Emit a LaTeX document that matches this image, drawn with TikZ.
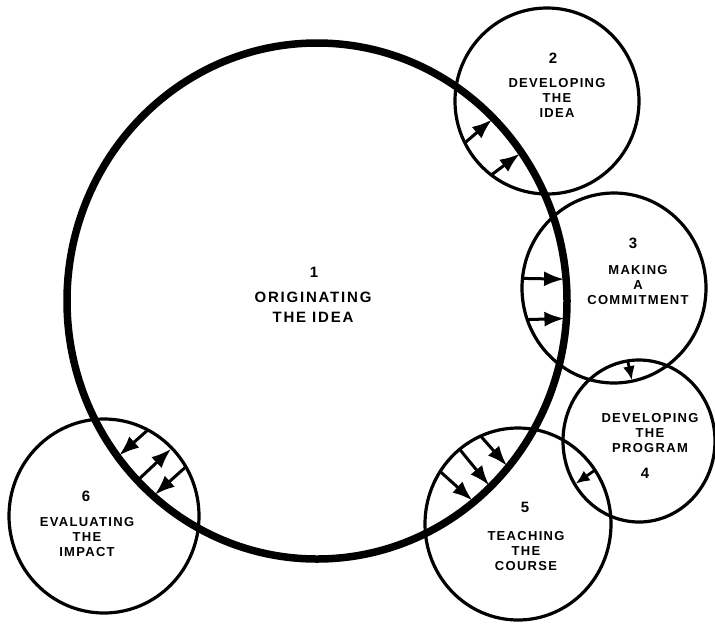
\documentclass[tikz,border=0pt]{standalone}
\usepackage{fontspec}
\setmainfont{Liberation Sans}
\newfontfamily\lblfamily{Liberation Sans}[LetterSpace=10.0]
\newfontfamily\biglblfamily{Liberation Sans}[LetterSpace=12.0]
\usetikzlibrary{shapes.geometric,arrows.meta}
\tikzset{
  stage/.style={draw, ellipse, line width=3.2pt, inner sep=0pt, outer sep=0pt},
  bigstage/.style={stage, line width=7.5pt},
  flow/.style={line width=3pt, shorten >=2pt, -{Latex[length=20pt,width=15pt]}},
  smallflow/.style={line width=2.8pt, shorten >=1pt, -{Latex[length=14pt,width=12pt]}},
  num/.style={font=\lblfamily\bfseries\fontsize{15}{17}\selectfont, inner sep=0pt},
  lbl/.style={align=center, inner sep=0pt, font=\lblfamily\bfseries\fontsize{13}{15}\selectfont},
  biglbl/.style={align=center, inner sep=0pt, font=\biglblfamily\bfseries\fontsize{15}{20}\selectfont}
}
\begin{document}
\begin{tikzpicture}[x=1pt,y=-1pt]
\useasboundingbox[fill=white] (0,0) rectangle (715,625);
% stage circles
\node[stage, minimum width=184pt, minimum height=186pt] (c2) at (547,101) {};
\node[stage, minimum width=184pt, minimum height=190pt] (c3) at (614,288) {};
\node[stage, minimum width=152pt, minimum height=162pt] (c4) at (639,441) {};
\node[stage, minimum width=186pt, minimum height=192pt] (c5) at (518,524) {};
\node[stage, minimum width=190pt, minimum height=194pt] (c6) at (104,516) {};
\node[bigstage, minimum width=500pt, minimum height=516pt] (c1) at (317,301) {};
% texts
\node[num] (n1) at (314,272) {1};
\node[biglbl] (t1) at (313,307) {ORIGINATING\\THE IDEA};
\node[num] (n2) at (553,58) {2};
\node[lbl] (t2) at (557,98) {DEVELOPING\\THE\\IDEA};
\node[num] (n3) at (633,243) {3};
\node[lbl] (t3) at (638,285) {MAKING\\A\\COMMITMENT};
\node[lbl] (t4) at (650,433) {DEVELOPING\\THE\\PROGRAM};
\node[num] (n4) at (645,473) {4};
\node[num] (n5) at (525,507) {5};
\node[lbl] (t5) at (526,551) {TEACHING\\THE\\COURSE};
\node[num] (n6) at (86,496) {6};
\node[lbl] (t6) at (87,537) {EVALUATING\\THE\\IMPACT};
% arrows 1 -> 2
\draw[flow] (c2.207) -- (c1.46);
\draw[flow] (c2.233) -- (c1.36);
% arrows 1 -> 3
\draw[flow] (c3.174) -- (c1.5);
\draw[flow] (c3.200) -- (c1.356);
% arrow 3 -> 4
\draw[smallflow] (c4.98) -- (c3.281);
% arrow 4 -> 5
\draw[smallflow] (c5.35) -- (c4.214);
% arrows 1 -> 5
\draw[flow] (c5.146) -- (c1.308);
\draw[flow] (c5.128) -- (c1.313);
\draw[flow] (c5.113) -- (c1.319);
% arrows 1 <-> 6
\draw[flow] (c6.63) -- (c1.218);
\draw[flow, shorten >=1pt] (c1.225) -- (c6.45);
\draw[flow] (c6.31) -- (c1.230);
\end{tikzpicture}
\end{document}
